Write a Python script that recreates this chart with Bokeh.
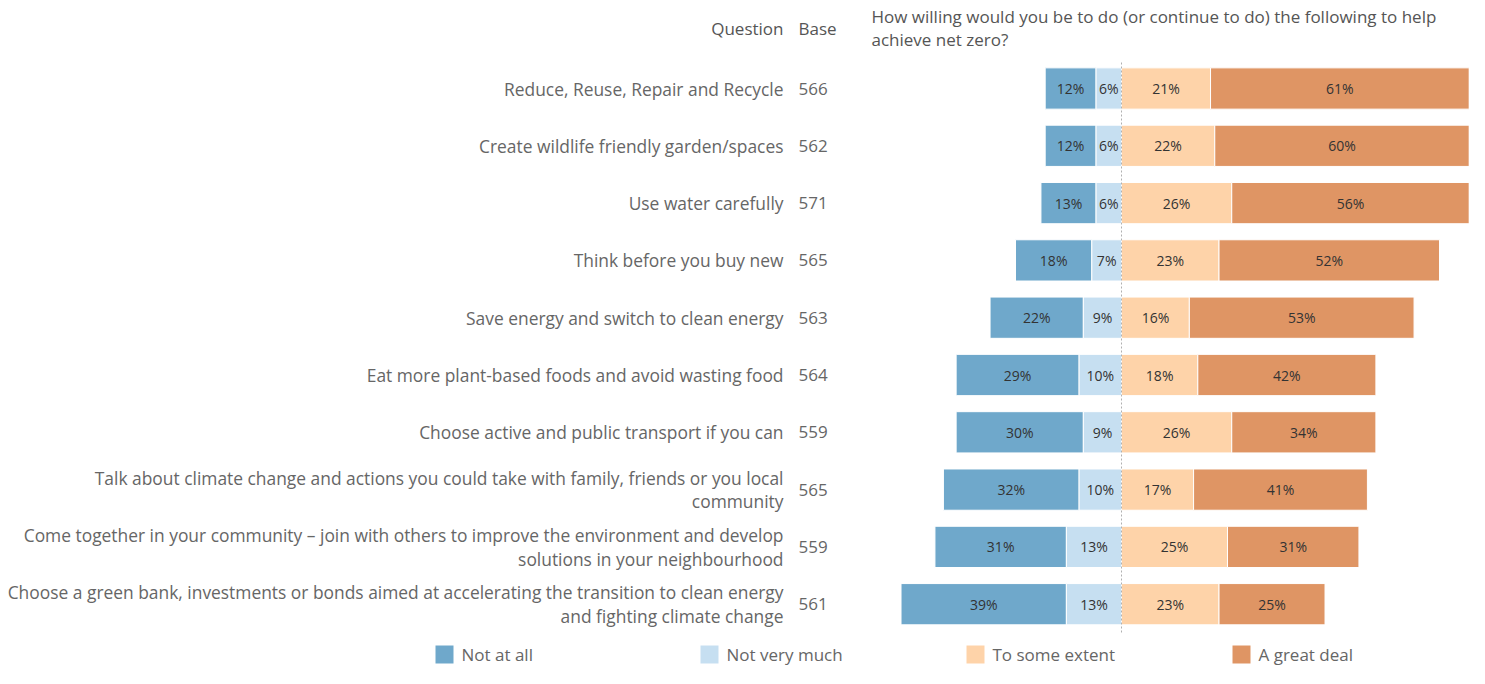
from bokeh.plotting import figure
from bokeh.models import Range1d, ColumnDataSource
from bokeh.core.properties import value
from bokeh.embed import file_html
from bokeh.resources import INLINE

questions = [
    "Reduce, Reuse, Repair and Recycle",
    "Create wildlife friendly garden/spaces",
    "Use water carefully",
    "Think before you buy new",
    "Save energy and switch to clean energy",
    "Eat more plant-based foods and avoid wasting food",
    "Choose active and public transport if you can",
    "Talk about climate change and actions you could take with family, friends or you local\ncommunity",
    "Come together in your community \u2013 join with others to improve the environment and develop\nsolutions in your neighbourhood",
    "Choose a green bank, investments or bonds aimed at accelerating the transition to clean energy\nand fighting climate change",
]
bases = [566, 562, 571, 565, 563, 564, 559, 565, 559, 561]
not_at_all = [12, 12, 13, 18, 22, 29, 30, 32, 31, 39]
not_very_much = [6, 6, 6, 7, 9, 10, 9, 10, 13, 13]
to_some_extent = [21, 22, 26, 23, 16, 18, 26, 17, 25, 23]
a_great_deal = [61, 60, 56, 52, 53, 42, 34, 41, 31, 25]
categories = ["Not at all", "Not very much", "To some extent", "A great deal"]
colors = ["#6fa8cb", "#c6dff1", "#fed3a9", "#df9564"]
title_lines = ["How willing would you be to do (or continue to do) the following to help",
               "achieve net zero?"]

FONT = "Open Sans"
FS = "17px"
W, H = 1469, 668
Z = 1121.0      # x of zero line
S = 4.24        # px per percent
Y0, DY = 88.0, 57.3

def X(px):
    return (px - Z) / S

def Y(py):
    return (py - Y0) / DY

p = figure(width=W, height=H, output_backend="svg", toolbar_location=None,
           x_range=Range1d(X(0), X(W)), y_range=Range1d(Y(H), Y(0)),
           min_border=0, x_axis_type=None, y_axis_type=None)
p.grid.visible = False
p.outline_line_color = None
p.background_fill_color = "white"
p.border_fill_color = "white"

rows = list(range(len(questions)))
n = len(rows)
l1 = [-(a + b) for a, b in zip(not_at_all, not_very_much)]
r1 = [-b for b in not_very_much]
l2 = r1
r2 = [0] * n
l3 = [0] * n
r3 = to_some_extent
l4 = to_some_extent
r4 = [a + b for a, b in zip(to_some_extent, a_great_deal)]

segs = [(l1, r1, not_at_all), (l2, r2, not_very_much), (l3, r3, to_some_extent), (l4, r4, a_great_deal)]
for (lft, rgt, vals), col in zip(segs, colors):
    src = ColumnDataSource(dict(y=rows, left=lft, right=rgt,
                                mid=[(a + b) / 2 for a, b in zip(lft, rgt)],
                                lab=[f"{v}%" for v in vals]))
    p.hbar(y="y", left="left", right="right", height=0.72, source=src,
           fill_color=col, line_color="white", line_width=1)
    p.text(x="mid", y="y", text="lab", source=src, text_align="center",
           text_baseline="middle", text_font=value(FONT), text_font_size="14px",
           text_color="#333333")

# zero line
p.segment(x0=[0], y0=[Y(62)], x1=[0], y1=[Y(632)], line_color="#b0b0b0",
          line_dash="2 2", line_width=1)

# question labels and bases
p.text(x=[X(783)] * n, y=rows, text=questions, text_align="right", text_baseline="middle",
       text_font=value(FONT), text_font_size="17.4px", text_color="#666666",
       text_line_height=0.98)
p.text(x=[X(798)] * n, y=rows, text=[str(b) for b in bases], text_align="left",
       text_baseline="middle", text_font=value(FONT), text_font_size=FS,
       text_color="#666666")

# headers
p.text(x=[X(783)], y=[Y(28)], text=["Question"], text_align="right", text_baseline="middle",
       text_font=value(FONT), text_font_size=FS, text_color="#555555")
p.text(x=[X(798)], y=[Y(28)], text=["Base"], text_align="left", text_baseline="middle",
       text_font=value(FONT), text_font_size=FS, text_color="#555555")
p.text(x=[X(871)] * 2, y=[Y(16), Y(39)], text=title_lines, text_align="left",
       text_baseline="middle", text_font=value(FONT), text_font_size=FS,
       text_color="#555555")

# legend
sq_x = [444, 709, 975, 1241]
p.rect(x=[X(s) for s in sq_x], y=[Y(654)] * 4, width=18, height=18,
       width_units="screen", height_units="screen", fill_color=colors, line_color=None)
p.text(x=[X(s + 17) for s in sq_x], y=[Y(654)] * 4, text=categories, text_align="left",
       text_baseline="middle", text_font=value(FONT), text_font_size=FS,
       text_color="#666666")

open("out.html", "w").write(file_html(p, INLINE))
